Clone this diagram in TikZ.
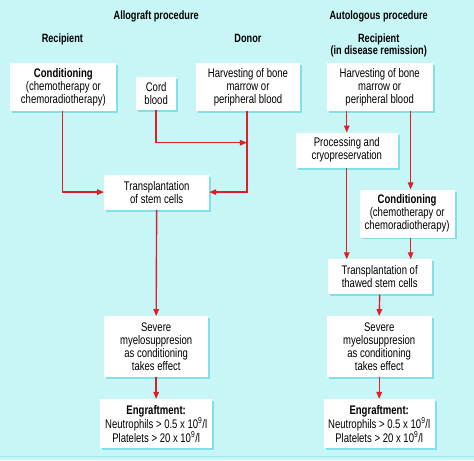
\documentclass[tikz,border=0pt]{standalone}
\usepackage{fontspec}
\setmainfont{Liberation Sans}[FakeStretch=0.765]
\usetikzlibrary{arrows.meta,shadows}
\definecolor{bgc}{RGB}{200,246,247}
\definecolor{shc}{RGB}{130,224,232}
\definecolor{arc}{RGB}{222,30,40}
\begin{document}
\begin{tikzpicture}[x=1pt,y=-1pt,
  box/.style={draw=none,fill=white,inner sep=0pt,align=center,font=\fontsize{12.5}{13}\selectfont,
    drop shadow={shadow xshift=2pt,shadow yshift=-2pt,fill=shc,opacity=1}},
  hdr/.style={align=center,font=\fontsize{12}{13}\selectfont\bfseries},
  arr/.style={draw=arc,line width=1.4pt,-{Triangle[length=7pt,width=5.5pt]}},
  ln/.style={draw=arc,line width=1.4pt}]
\fill[bgc] (0,0) rectangle (474,461);
\draw[shc!60!bgc,line width=1pt] (0,457) -- (474,457);
% headers
\node[hdr] (h1) at (156,16) {Allograft procedure};
\node[hdr] (h2) at (379,16) {Autologous procedure};
\node[hdr] (h3) at (62,39) {Recipient};
\node[hdr] (h4) at (248,39) {Donor};
\node[hdr] (h5) at (379,45.5) {Recipient\\(in disease remission)};
% boxes
\node[box,minimum width=106pt,minimum height=48pt] (condL) at (63,87) {\textbf{Conditioning}\\(chemotherapy or\\chemoradiotherapy)};
\node[box,minimum width=40pt,minimum height=33pt] (cord) at (156,93.5) {Cord\\blood};
\node[box,minimum width=104pt,minimum height=48pt] (harvD) at (248,87) {Harvesting of bone\\marrow or\\peripheral blood};
\node[box,minimum width=106pt,minimum height=48pt] (harvA) at (380,87) {Harvesting of bone\\marrow or\\peripheral blood};
\node[box,minimum width=102pt,minimum height=35pt] (proc) at (347,150.5) {Processing and\\cryopreservation};
\node[box,minimum width=105pt,minimum height=35pt] (transL) at (156.5,192.5) {Transplantation\\of stem cells};
\node[box,minimum width=95pt,minimum height=48pt] (condA) at (407.5,214) {\textbf{Conditioning}\\(chemotherapy or\\chemoradiotherapy)};
\node[box,minimum width=104pt,minimum height=35pt] (thaw) at (380,277.5) {Transplantation of\\thawed stem cells};
\node[box,minimum width=104pt,minimum height=61pt] (sevL) at (156,347.5) {Severe\\myelosuppresion\\as conditioning\\takes effect};
\node[box,minimum width=105pt,minimum height=61pt] (sevA) at (379.5,347.5) {Severe\\myelosuppresion\\as conditioning\\takes effect};
\node[box,minimum width=112pt,minimum height=49pt] (engL) at (156,424.5) {\textbf{Engraftment:}\\Neutrophils > 0.5 x 10\textsuperscript{9}/l\\Platelets > 20 x 10\textsuperscript{9}/l};
\node[box,minimum width=111pt,minimum height=49pt] (engA) at (379.5,424.5) {\textbf{Engraftment:}\\Neutrophils > 0.5 x 10\textsuperscript{9}/l\\Platelets > 20 x 10\textsuperscript{9}/l};
% connectors allograft
\coordinate (jc) at (247,143);
\coordinate (dL) at (62,111);
\coordinate (dR) at (247,111);
\draw[arr] (dL) |- (transL.west);
\draw[arr] (dR) |- (transL.east);
\draw[arr] (cord.south) |- (jc);
\draw[arr] (transL.south) -- (sevL.north);
\draw[arr] (sevL.south) -- (engL.north);
% connectors autologous
\coordinate (a1) at (347,111);
\coordinate (a2) at (411,111);
\coordinate (a3) at (411,238);
\draw[arr] (a1) -- (proc.north);
\draw[arr] (a2) -- (a2 |- condA.north);
\draw[arr] (proc.south) -- (proc.south |- thaw.north);
\draw[arr] (a3) -- (a3 |- thaw.north);
\draw[arr] (thaw.south) -- (sevA.north);
\draw[arr] (sevA.south) -- (engA.north);
\end{tikzpicture}
\end{document}
